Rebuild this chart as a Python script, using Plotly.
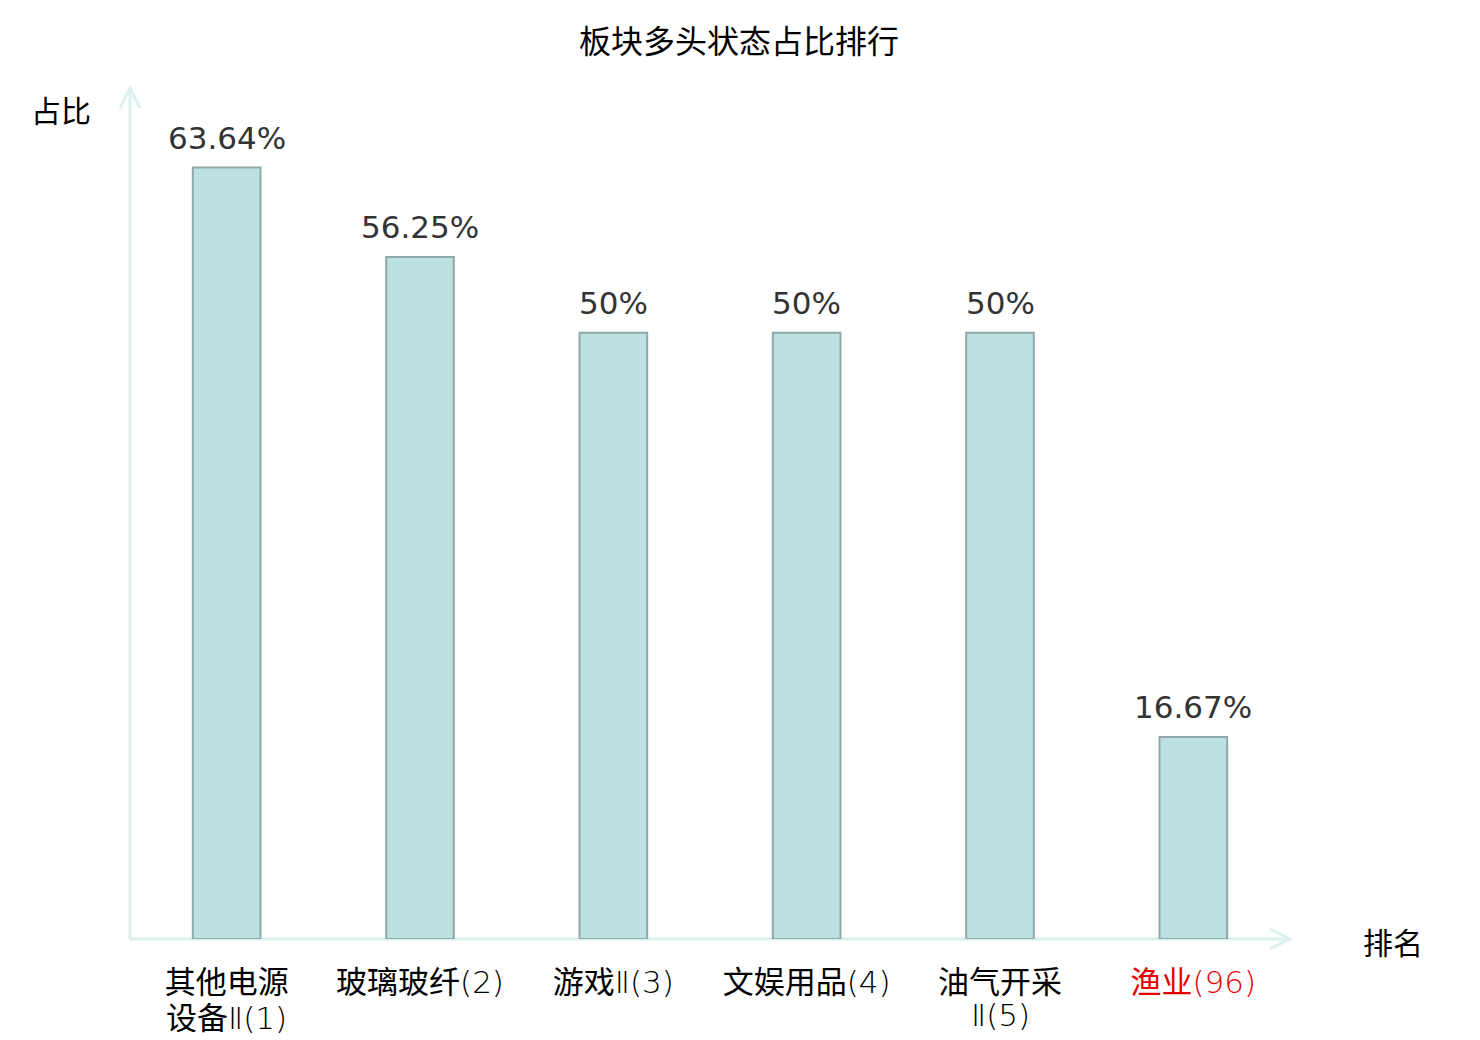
import plotly.graph_objects as go

# 板块多头状态占比排行
categories = ["其他电源设备Ⅱ", "玻璃玻纤", "游戏Ⅱ", "文娱用品", "油气开采Ⅱ", "渔业"]
ranks = [1, 2, 3, 4, 5, 96]
values = [63.64, 56.25, 50, 50, 50, 16.67]
value_labels = ["63.64%", "56.25%", "50%", "50%", "50%", "16.67%"]
highlight = [False, False, False, False, False, True]

THIN = "font-family:'DejaVu Sans';font-weight:200"
LABEL_FONT = dict(family="Noto Sans CJK SC", size=31, color="#000000")


def split_label(name, rank, red):
    # names longer than 4 chars wrap; roman suffix and rank use the thin latin font
    base = name.rstrip("Ⅱ")
    suffix = name[len(base):]
    tail = "<span style=\"%s\">%s(%d)</span>" % (THIN, suffix, rank)
    if len(name) > 4:
        lines = [base[:4], base[4:] + tail]
    else:
        lines = [base + tail]
    if red:
        lines = ["<span style=\"color:#e60000\">" + s + "</span>" for s in lines]
    return lines


label_lines = [split_label(n, r, h) for n, r, h in zip(categories, ranks, highlight)]

fig = go.Figure(go.Bar(
    x=categories,
    y=values,
    width=0.35,
    marker=dict(color="#bde0e3", line=dict(color="#8ea9a9", width=2)),
    hoverinfo="skip",
))

# value labels above bars
for c, v, t in zip(categories, values, value_labels):
    fig.add_annotation(x=c, y=v, text=t, showarrow=False, yanchor="bottom", yshift=10,
                       font=dict(family="DejaVu Sans", size=31, color="#333333"))

# second line of wrapped category labels (tight line spacing)
for c, lines in zip(categories, label_lines):
    if len(lines) > 1:
        fig.add_annotation(x=c, yref="paper", y=0, text=lines[1], showarrow=False,
                           yanchor="middle", yshift=-76, font=LABEL_FONT)

axis_col = "#dcf0ed"
fig.add_shape(type="line", xref="paper", yref="paper", x0=0, y0=0, x1=1, y1=0,
              line=dict(color=axis_col, width=3), layer="below")
fig.add_shape(type="line", xref="paper", yref="paper", x0=0, y0=0, x1=0, y1=1,
              line=dict(color=axis_col, width=3), layer="below")
fig.add_shape(type="path", xref="paper", yref="paper", xsizemode="pixel", ysizemode="pixel",
              xanchor=1, yanchor=0, path="M-20,-10L0,0L-20,10",
              line=dict(color=axis_col, width=3), layer="below")
fig.add_shape(type="path", xref="paper", yref="paper", xsizemode="pixel", ysizemode="pixel",
              xanchor=0, yanchor=1, path="M-10,-20L0,0L10,-20",
              line=dict(color=axis_col, width=3), layer="below")

# axis names
fig.add_annotation(xref="paper", yref="paper", x=0, y=1, xanchor="right", yanchor="middle",
                   xshift=-37, yshift=-21, text="占比", showarrow=False,
                   font=dict(family="Noto Sans CJK SC", size=30, color="#000000"))
fig.add_annotation(xref="paper", yref="paper", x=1, y=0, xanchor="left", yanchor="middle",
                   xshift=71, yshift=-2, text="排名", showarrow=False,
                   font=dict(family="Noto Sans CJK SC", size=30, color="#000000"))

# page body adds an 8px offset, so the figure is sized to fit inside the window
fig.update_layout(
    width=1472, height=1032,
    margin=dict(l=122, r=190, t=80, b=101),
    paper_bgcolor="white", plot_bgcolor="white",
    showlegend=False,
    title=dict(text="板块多头状态占比排行", x=731 / 1472, xanchor="center", y=1 - 34 / 1032,
               yanchor="middle", font=dict(family="Noto Sans CJK SC", size=32, color="#000000")),
    xaxis=dict(tickvals=categories, ticktext=[l[0] for l in label_lines], range=[-0.5, 5.5],
               showgrid=False, showline=False, zeroline=False, ticks="", ticklabelstandoff=22,
               automargin=False, tickfont=LABEL_FONT),
    yaxis=dict(range=[0, 70.2], visible=False),
)

fig.write_html("out.html")
